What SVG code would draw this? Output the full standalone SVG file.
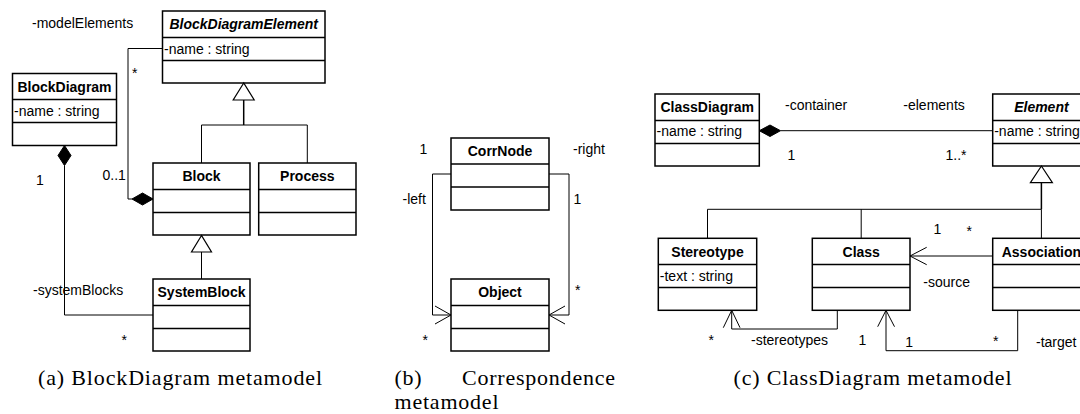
<svg xmlns="http://www.w3.org/2000/svg" width="1080" height="414" viewBox="0 0 1080 414">
  <style>
    .box { fill: #fff; stroke: #000; stroke-width: 1.5; }
    .sep { stroke: #000; stroke-width: 1.5; }
    .title { font-family: "Liberation Sans", Arial, sans-serif; font-size: 14px; font-weight: bold; text-anchor: middle; fill: #000; }
    .abs { font-style: italic; }
    .attr { font-family: "Liberation Sans", Arial, sans-serif; font-size: 14px; fill: #000; }
    .lbl { font-family: "Liberation Sans", Arial, sans-serif; font-size: 14px; fill: #000; }
    .line { fill: none; stroke: #000; stroke-width: 1; }
    .stem { fill: none; stroke: #000; stroke-width: 1.5; }
    .tri { fill: #fff; stroke: #000; stroke-width: 1.2; }
    .dia { fill: #000; stroke: #000; stroke-width: 1; }
    .cap { font-family: "Liberation Serif", "Times New Roman", serif; font-size: 22px; fill: #000; }
  </style>

  <!-- ========== (a) BlockDiagram metamodel ========== -->
  <g id="blockDiagramElement">
    <rect class="box" x="162.5" y="11" width="162.5" height="72"/>
    <line class="sep" x1="162.5" y1="37.5" x2="325" y2="37.5"/>
    <line class="sep" x1="162.5" y1="60.5" x2="325" y2="60.5"/>
    <text class="title abs" x="243.7" y="29">BlockDiagramElement</text>
    <text class="attr" x="164" y="54">-name : string</text>
  </g>
  <g id="blockDiagram">
    <rect class="box" x="12.5" y="73.5" width="104" height="72"/>
    <line class="sep" x1="12.5" y1="99.5" x2="116.5" y2="99.5"/>
    <line class="sep" x1="12.5" y1="122.5" x2="116.5" y2="122.5"/>
    <text class="title" x="64.5" y="92">BlockDiagram</text>
    <text class="attr" x="14" y="116">-name : string</text>
  </g>
  <g id="block">
    <rect class="box" x="153" y="163" width="97" height="72"/>
    <line class="sep" x1="153" y1="189.5" x2="250" y2="189.5"/>
    <line class="sep" x1="153" y1="212.5" x2="250" y2="212.5"/>
    <text class="title" x="201.5" y="181">Block</text>
  </g>
  <g id="process">
    <rect class="box" x="258.7" y="163" width="97.3" height="72"/>
    <line class="sep" x1="258.7" y1="189.5" x2="356" y2="189.5"/>
    <line class="sep" x1="258.7" y1="212.5" x2="356" y2="212.5"/>
    <text class="title" x="307.3" y="181">Process</text>
  </g>
  <g id="systemBlock">
    <rect class="box" x="153" y="279" width="97" height="72"/>
    <line class="sep" x1="153" y1="305.5" x2="250" y2="305.5"/>
    <line class="sep" x1="153" y1="328.5" x2="250" y2="328.5"/>
    <text class="title" x="201.5" y="297">SystemBlock</text>
  </g>

  <g id="connectors-a">
    <!-- generalisation Block/Process -> BlockDiagramElement -->
    <polyline class="stem" points="243.7,100 243.7,125"/>
    <polyline class="line" points="201.5,163 201.5,125 307.3,125 307.3,163"/>
    <polygon class="tri" points="243.7,83 233.2,100 254.2,100"/>
    <!-- generalisation SystemBlock -> Block -->
    <polyline class="line" points="201.5,252 201.5,279"/>
    <polygon class="tri" points="201.5,235.5 191.5,252 211.5,252"/>
    <!-- composition Block <>- BlockDiagramElement -->
    <polyline class="line" points="162.5,48.5 128,48.5 128,199 132,199"/>
    <polygon class="dia" points="153,199 142.5,193 132,199 142.5,205"/>
    <!-- composition BlockDiagram <>- SystemBlock -->
    <polyline class="line" points="64.5,165.5 64.5,315 153,315"/>
    <polygon class="dia" points="64.5,145.5 58,155.5 64.5,165.5 71,155.5"/>
    <text class="lbl" x="32" y="28">-modelElements</text>
    <text class="lbl" x="132" y="78">*</text>
    <text class="lbl" x="102.5" y="180">0..1</text>
    <text class="lbl" x="36" y="185">1</text>
    <text class="lbl" x="33" y="295">-systemBlocks</text>
    <text class="lbl" x="121.5" y="345">*</text>
  </g>

  <!-- ========== (b) Correspondence metamodel ========== -->
  <g id="corrNode">
    <rect class="box" x="451" y="138" width="98" height="72"/>
    <line class="sep" x1="451" y1="164" x2="549" y2="164"/>
    <line class="sep" x1="451" y1="187" x2="549" y2="187"/>
    <text class="title" x="500" y="156">CorrNode</text>
  </g>
  <g id="object">
    <rect class="box" x="451" y="279" width="98" height="72"/>
    <line class="sep" x1="451" y1="305.5" x2="549" y2="305.5"/>
    <line class="sep" x1="451" y1="328.5" x2="549" y2="328.5"/>
    <text class="title" x="500" y="297">Object</text>
  </g>
  <g id="connectors-b">
    <polyline class="line" points="451,174 432.5,174 432.5,315 451,315"/>
    <polyline class="line" points="435,306 451,315 435,324"/>
    <polyline class="line" points="549,174 569,174 569,315 549,315"/>
    <polyline class="line" points="565,306 549,315 565,324"/>
    <text class="lbl" x="419.5" y="153.5">1</text>
    <text class="lbl" x="573" y="153.5">-right</text>
    <text class="lbl" x="402.5" y="203.5">-left</text>
    <text class="lbl" x="573.5" y="203.5">1</text>
    <text class="lbl" x="575" y="295">*</text>
    <text class="lbl" x="422.5" y="345">*</text>
  </g>

  <!-- ========== (c) ClassDiagram metamodel ========== -->
  <g id="classDiagram">
    <rect class="box" x="655" y="94" width="104.3" height="72"/>
    <line class="sep" x1="655" y1="120.5" x2="759.3" y2="120.5"/>
    <line class="sep" x1="655" y1="143.5" x2="759.3" y2="143.5"/>
    <text class="title" x="707.2" y="112">ClassDiagram</text>
    <text class="attr" x="656.5" y="136">-name : string</text>
  </g>
  <g id="element">
    <rect class="box" x="992.7" y="94" width="97.3" height="72"/>
    <line class="sep" x1="992.7" y1="120.5" x2="1090" y2="120.5"/>
    <line class="sep" x1="992.7" y1="143.5" x2="1090" y2="143.5"/>
    <text class="title abs" x="1041.4" y="112">Element</text>
    <text class="attr" x="994.2" y="136">-name : string</text>
  </g>
  <g id="stereotype">
    <rect class="box" x="658.3" y="238.3" width="98.4" height="72"/>
    <line class="sep" x1="658.3" y1="264.5" x2="756.7" y2="264.5"/>
    <line class="sep" x1="658.3" y1="287.5" x2="756.7" y2="287.5"/>
    <text class="title" x="707.5" y="256.5">Stereotype</text>
    <text class="attr" x="659.8" y="280.5">-text : string</text>
  </g>
  <g id="class">
    <rect class="box" x="812.3" y="238.3" width="97.7" height="72"/>
    <line class="sep" x1="812.3" y1="264.5" x2="910" y2="264.5"/>
    <line class="sep" x1="812.3" y1="287.5" x2="910" y2="287.5"/>
    <text class="title" x="861.2" y="256.5">Class</text>
  </g>
  <g id="association">
    <rect class="box" x="992.7" y="238.3" width="97.3" height="72"/>
    <line class="sep" x1="992.7" y1="264.5" x2="1090" y2="264.5"/>
    <line class="sep" x1="992.7" y1="287.5" x2="1090" y2="287.5"/>
    <text class="title" x="1041.4" y="256.5">Association</text>
  </g>
  <g id="connectors-c">
    <!-- composition ClassDiagram <>- Element -->
    <line class="line" x1="780.5" y1="130.7" x2="992.7" y2="130.7"/>
    <polygon class="dia" points="759.3,130.7 770,125 780.5,130.7 770,136.5"/>
    <text class="lbl" x="785" y="110">-container</text>
    <text class="lbl" x="903.3" y="110">-elements</text>
    <text class="lbl" x="787.5" y="160">1</text>
    <text class="lbl" x="945.5" y="160">1..*</text>
    <!-- generalisation Stereotype/Class/Association -> Element -->
    <polyline class="stem" points="1041.4,182.7 1041.4,209.3"/>
    <polyline class="line" points="707.5,238.3 707.5,209.3 1041.4,209.3 1041.4,238.3"/>
    <line class="line" x1="861.2" y1="209.3" x2="861.2" y2="238.3"/>
    <polygon class="tri" points="1041.4,166 1030.4,182.7 1052.4,182.7"/>
    <!-- source -->
    <line class="line" x1="992.7" y1="256" x2="910" y2="256"/>
    <polyline class="line" points="926.7,247.3 910,256 926.7,264.7"/>
    <text class="lbl" x="933.5" y="234">1</text>
    <text class="lbl" x="966.5" y="236">*</text>
    <text class="lbl" x="923.3" y="286.5">-source</text>
    <!-- stereotypes -->
    <polyline class="line" points="837.3,310.3 837.3,329 731.7,329 731.7,310.3"/>
    <polyline class="line" points="723.3,327.7 731.7,310.3 740,327.7"/>
    <text class="lbl" x="708.5" y="345">*</text>
    <text class="lbl" x="751" y="345">-stereotypes</text>
    <text class="lbl" x="858.5" y="345">1</text>
    <!-- target -->
    <polyline class="line" points="1017.7,310.3 1017.7,350.7 886,350.7 886,310.3"/>
    <polyline class="line" points="877.7,326.7 886,310.3 894.5,326.7"/>
    <text class="lbl" x="905.2" y="346.5">1</text>
    <text class="lbl" x="993" y="346">*</text>
    <text class="lbl" x="1036" y="346.5">-target</text>
  </g>

  <!-- captions -->
  <g id="captions">
    <text class="cap" x="38" y="384.6" textLength="284" lengthAdjust="spacing">(a) BlockDiagram metamodel</text>
    <text class="cap" x="394.5" y="384.6" textLength="27" lengthAdjust="spacing">(b)</text>
    <text class="cap" x="462" y="384.6" textLength="153" lengthAdjust="spacing">Correspondence</text>
    <text class="cap" x="394.5" y="409.2" textLength="104" lengthAdjust="spacing">metamodel</text>
    <text class="cap" x="733.5" y="384.6" textLength="278" lengthAdjust="spacing">(c) ClassDiagram metamodel</text>
  </g>
</svg>
